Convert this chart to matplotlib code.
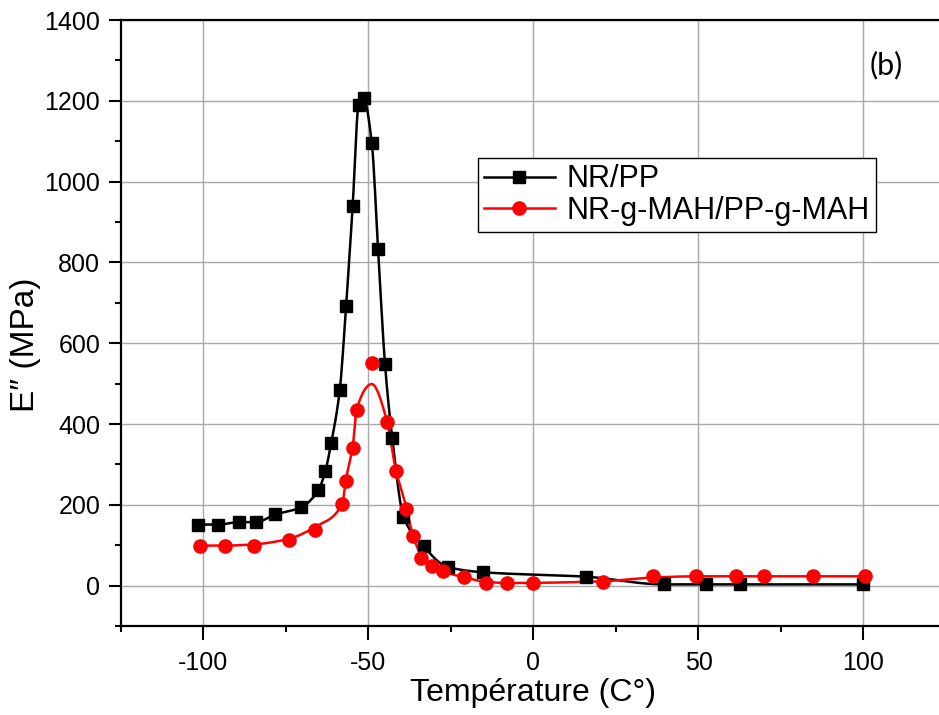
import matplotlib.pyplot as plt
import numpy as np
from matplotlib.ticker import MultipleLocator

plt.rcParams['font.family'] = ['Liberation Sans', 'DejaVu Sans']
plt.rcParams['axes.unicode_minus'] = False

# NR/PP
temp_nrpp = [-101.7, -95.6, -89.3, -84.2, -78.2, -70.4, -65.2, -63.1, -61.3, -58.7,
             -56.8, -54.8, -53.0, -51.5, -49.0, -47.1, -45.0, -42.8, -39.4, -33.3,
             -26.0, -15.2, 16.0, 39.4, 52.3, 62.7, 99.8]
e2_nrpp = [151, 151, 157, 157, 176, 194, 236, 283, 353, 485,
           691, 940, 1190, 1206, 1095, 833, 548, 365, 171, 97,
           46, 33, 22, 3, 3, 3, 3]

# NR-g-MAH/PP-g-MAH
temp_mah = [-101.0, -93.6, -84.8, -74.2, -66.1, -58.0, -56.8, -54.8, -53.5, -49.0,
            -44.5, -41.8, -38.6, -36.6, -34.0, -30.7, -27.5, -21.0, -14.5, -8.0,
            -0.2, 21.0, 36.2, 49.1, 61.4, 69.8, 84.8, 100.5]
e2_mah = [99, 99, 99, 114, 137, 203, 260, 340, 435, 551,
          406, 284, 190, 124, 68, 49, 35, 21, 6.5, 6.5,
          6.5, 8, 23, 23, 23, 23, 23, 23]


def pchip(x, y, n=800):
    x = np.asarray(x, float)
    y = np.asarray(y, float)
    h = np.diff(x)
    d = np.diff(y) / h
    m = np.zeros_like(y)
    m[0] = d[0]
    m[-1] = d[-1]
    for k in range(1, len(x) - 1):
        if d[k - 1] * d[k] <= 0:
            m[k] = 0
        else:
            w1 = 2 * h[k] + h[k - 1]
            w2 = h[k] + 2 * h[k - 1]
            m[k] = (w1 + w2) / (w1 / d[k - 1] + w2 / d[k])
    xs = np.linspace(x[0], x[-1], n)
    k = np.clip(np.searchsorted(x, xs) - 1, 0, len(x) - 2)
    t = (xs - x[k]) / h[k]
    h00 = 2 * t**3 - 3 * t**2 + 1
    h10 = t**3 - 2 * t**2 + t
    h01 = -2 * t**3 + 3 * t**2
    h11 = t**3 - t**2
    ys = h00 * y[k] + h10 * h[k] * m[k] + h01 * y[k + 1] + h11 * h[k] * m[k + 1]
    return xs, ys


def smooth(y):
    # light smoothing, the red line is a fit and does not reach the peak point
    y = np.asarray(y, float)
    s = y.copy()
    s[1:-1] = 0.2 * y[:-2] + 0.6 * y[1:-1] + 0.2 * y[2:]
    return s


fig = plt.figure(figsize=(9.39, 7.15), dpi=100)
ax = fig.add_axes([121 / 939, 89 / 715, 825 / 939, 606 / 715])

xs, ys = pchip(temp_nrpp, e2_nrpp)
ax.plot(xs, ys, color='black', lw=1.8, zorder=3)
ax.plot(temp_nrpp, e2_nrpp, 's', color='black', ms=8.5, zorder=4)

xs, ys = pchip(temp_mah, smooth(e2_mah))
ax.plot(xs, ys, color='red', lw=1.8, zorder=3)
ax.plot(temp_mah, e2_mah, 'o', color='red', ms=9.5, zorder=4)

# legend handles
ax.plot([], [], color='black', lw=1.8, marker='s', ms=8.5, label='NR/PP')
ax.plot([], [], color='red', lw=1.8, marker='o', ms=9.5, label='NR-g-MAH/PP-g-MAH')
handles, labels = ax.get_legend_handles_labels()
leg = ax.legend(handles, labels, loc='upper left', bbox_to_anchor=(0.433, 0.772),
                fontsize=22, frameon=True, fancybox=False, framealpha=1,
                edgecolor='black', handlelength=2.3, borderpad=0.2,
                labelspacing=0.05, handletextpad=0.4, borderaxespad=0)
leg.get_frame().set_linewidth(1.0)

ax.set_xlim(-125, 125)
ax.set_ylim(-100, 1400)
ax.xaxis.set_major_locator(MultipleLocator(50))
ax.xaxis.set_minor_locator(MultipleLocator(25))
ax.yaxis.set_major_locator(MultipleLocator(200))
ax.yaxis.set_minor_locator(MultipleLocator(100))
ax.grid(True, which='major', color='#a8a8a8', lw=1.0, zorder=0)
ax.set_axisbelow(True)

for s in ax.spines.values():
    s.set_linewidth(1.6)
ax.spines['right'].set_visible(False)
ax.tick_params(which='major', direction='out', length=9, width=1.5,
               labelsize=18, top=False, right=False)
ax.tick_params(axis='y', which='major', pad=6)
ax.tick_params(axis='x', which='major', length=10, pad=8)
ax.tick_params(which='minor', direction='out', length=4.5, width=1.5,
               top=False, right=False)

ax.set_xlabel('Température (C°)', fontsize=23, labelpad=2)
ax.set_ylabel('E″ (MPa)', fontsize=24)
ax.yaxis.set_label_coords(-0.097, 0.464)

ax.text(107, 1289, '(b)', fontsize=22, family=['Lato', 'DejaVu Sans'],
        ha='center', va='center')

fig.savefig('out.png', dpi=100)
